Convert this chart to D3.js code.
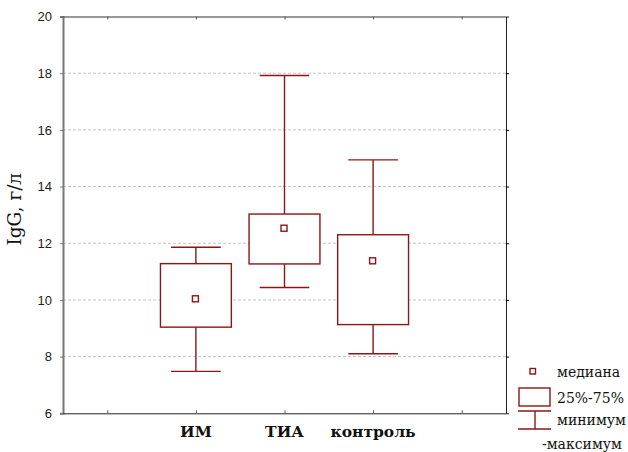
<html>
<head>
<meta charset="utf-8">
<title>IgG boxplot</title>
<script src="https://d3js.org/d3.v7.min.js"></script>
<style>
body { margin: 0; background: #fff; }
.serif { font-family: "DejaVu Serif", serif; }
</style>
</head>
<body>
<script>
var categories = ["ИМ", "ТИА", "контроль"];
var positions = [2, 3, 4];
var mins = [7.48, 10.44, 8.10];
var q1s = [9.04, 11.27, 9.13];
var medians = [10.04, 12.53, 11.38];
var q3s = [11.28, 13.03, 12.30];
var maxs = [11.86, 17.92, 14.94];
var yTicks = [6, 8, 10, 12, 14, 16, 18, 20];
var legendLabels = ["медиана", "25%-75%", "минимум", "-максимум"];

var width = 628, height = 452;
var red = "#8b1616";

var x = d3.scaleLinear().domain([0.5, 5.5]).range([63, 506]);
var y = d3.scaleLinear().domain([6, 20]).range([413.3, 16.5]);

var svg = d3.select("body").append("svg")
  .attr("width", width).attr("height", height);

// grid
svg.selectAll("line.grid")
  .data(yTicks.slice(1, -1))
  .enter().append("line")
    .attr("class", "grid")
    .attr("x1", x(0.5)).attr("x2", x(5.5))
    .attr("y1", function(d) { return y(d); })
    .attr("y2", function(d) { return y(d); })
    .attr("stroke", "#c4c4c4")
    .attr("stroke-dasharray", "3,2");

// axes
var yAxis = svg.append("g")
  .attr("transform", "translate(" + x(0.5) + ",0)")
  .call(d3.axisLeft(y).tickValues(yTicks).tickSize(3).tickPadding(8));
yAxis.select(".domain").attr("stroke", "#777").attr("stroke-width", 2);
yAxis.selectAll("text")
  .attr("font-family", "'Liberation Sans', Arial, sans-serif")
  .attr("font-size", 13).attr("fill", "#222");
yAxis.selectAll(".tick line").attr("stroke", "#777");

svg.append("g")
  .attr("transform", "translate(" + x(5.5) + ",0)")
  .call(d3.axisRight(y).tickValues(yTicks.slice(1, -1)).tickSize(3).tickFormat(""))
  .select(".domain").attr("stroke", "#222");

var xBottom = svg.append("g")
  .attr("transform", "translate(0," + y(6) + ")")
  .call(d3.axisBottom(x).tickValues([1, 2, 3, 4, 5]).tickSize(-3).tickSizeOuter(0).tickFormat(""));
xBottom.select(".domain").attr("stroke", "#222");
xBottom.selectAll(".tick line").attr("stroke", "#555");

var xTop = svg.append("g")
  .attr("transform", "translate(0," + y(20) + ")")
  .call(d3.axisTop(x).tickValues([1, 2, 3, 4, 5]).tickSize(-3).tickSizeOuter(0).tickFormat(""));
xTop.select(".domain").attr("stroke", "#333");
xTop.selectAll(".tick line").attr("stroke", "#555");

// category labels
svg.selectAll("text.cat")
  .data(categories)
  .enter().append("text")
    .attr("class", "cat serif")
    .attr("x", function(d, i) { return x(positions[i]); })
    .attr("y", 437)
    .attr("text-anchor", "middle")
    .attr("font-weight", "bold")
    .attr("font-size", 15.5)
    .attr("fill", "#111")
    .text(function(d) { return d; });

// y label
svg.append("text")
  .attr("class", "serif")
  .attr("transform", "translate(21," + y(13.2) + ") rotate(-90)")
  .attr("text-anchor", "middle")
  .attr("font-size", 18.5)
  .attr("fill", "#111")
  .text("IgG, г/л");

// boxes
var boxW = 0.8, capW = 0.56;
var g = svg.selectAll("g.box")
  .data(categories)
  .enter().append("g")
    .attr("class", "box")
    .attr("stroke", red)
    .attr("stroke-width", 1.4)
    .attr("fill", "none");

g.append("line")
  .attr("x1", function(d, i) { return x(positions[i]); })
  .attr("x2", function(d, i) { return x(positions[i]); })
  .attr("y1", function(d, i) { return y(maxs[i]); })
  .attr("y2", function(d, i) { return y(q3s[i]); });
g.append("line")
  .attr("x1", function(d, i) { return x(positions[i]); })
  .attr("x2", function(d, i) { return x(positions[i]); })
  .attr("y1", function(d, i) { return y(q1s[i]); })
  .attr("y2", function(d, i) { return y(mins[i]); });
g.append("line")
  .attr("x1", function(d, i) { return x(positions[i] - capW / 2); })
  .attr("x2", function(d, i) { return x(positions[i] + capW / 2); })
  .attr("y1", function(d, i) { return y(maxs[i]); })
  .attr("y2", function(d, i) { return y(maxs[i]); });
g.append("line")
  .attr("x1", function(d, i) { return x(positions[i] - capW / 2); })
  .attr("x2", function(d, i) { return x(positions[i] + capW / 2); })
  .attr("y1", function(d, i) { return y(mins[i]); })
  .attr("y2", function(d, i) { return y(mins[i]); });
g.append("rect")
  .attr("x", function(d, i) { return x(positions[i] - boxW / 2); })
  .attr("width", function(d, i) { return x(positions[i] + boxW / 2) - x(positions[i] - boxW / 2); })
  .attr("y", function(d, i) { return y(q3s[i]); })
  .attr("height", function(d, i) { return y(q1s[i]) - y(q3s[i]); })
  .attr("fill", "#fff");
g.append("rect")
  .attr("x", function(d, i) { return x(positions[i]) - 3.5; })
  .attr("y", function(d, i) { return y(medians[i]) - 3; })
  .attr("width", 6).attr("height", 6)
  .attr("fill", "#fff");

// legend
var lg = svg.append("g").attr("stroke", red).attr("stroke-width", 1.4).attr("fill", "none");
lg.append("rect").attr("x", 530).attr("y", 368.5).attr("width", 5.5).attr("height", 5.5);
lg.append("rect").attr("x", 519).attr("y", 388).attr("width", 31).attr("height", 18);
lg.append("line").attr("x1", 518).attr("x2", 551).attr("y1", 411).attr("y2", 411);
lg.append("line").attr("x1", 535).attr("x2", 535).attr("y1", 411).attr("y2", 429);
lg.append("line").attr("x1", 518).attr("x2", 551).attr("y1", 429).attr("y2", 429);

var legendX = [557, 557, 557, 542];
var legendY = [377, 403, 425, 449];
svg.selectAll("text.leg")
  .data(legendLabels)
  .enter().append("text")
    .attr("class", "leg serif")
    .attr("x", function(d, i) { return legendX[i]; })
    .attr("y", function(d, i) { return legendY[i]; })
    .attr("font-size", 14)
    .attr("fill", "#111")
    .text(function(d) { return d; });
</script>
</body>
</html>
